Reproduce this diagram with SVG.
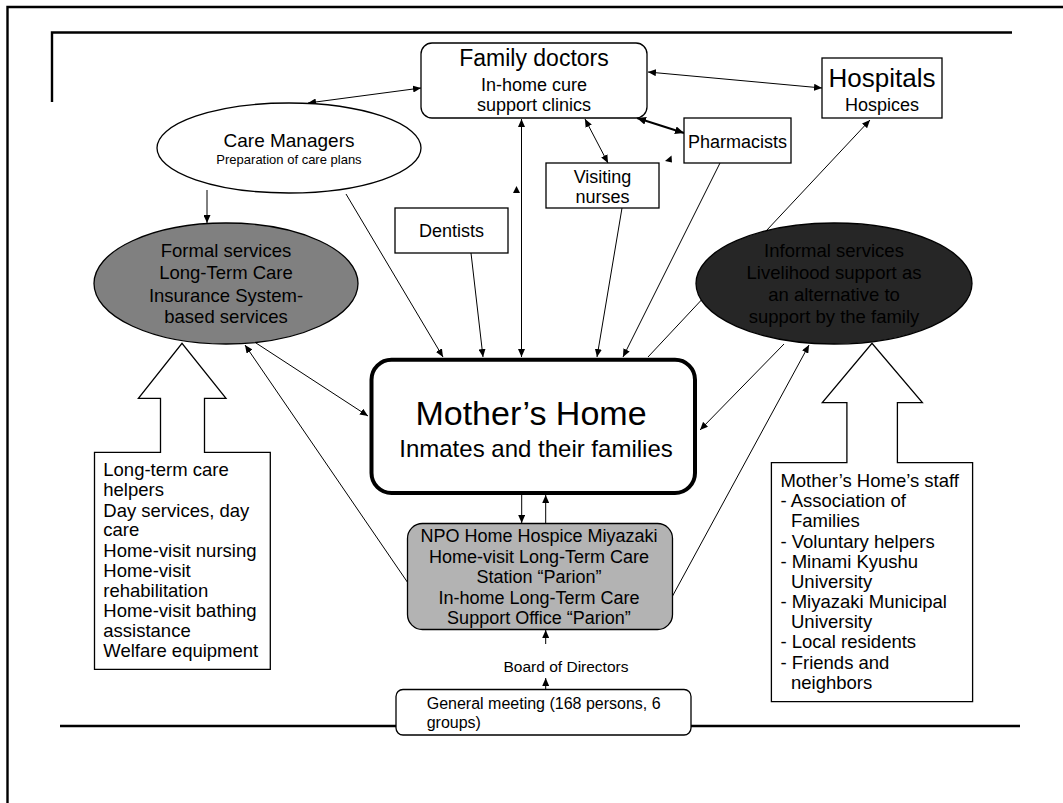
<svg xmlns="http://www.w3.org/2000/svg" width="1063" height="803" viewBox="0 0 1063 803">
  <style>
    text { font-family: "Liberation Sans", Arial, sans-serif; fill: #000; }
    .box { fill: #fff; stroke: #000; stroke-width: 1.3; }
    .frame { fill: none; stroke: #000; stroke-width: 2.4; }
    .conn { fill: none; stroke: #000; stroke-width: 1; }
    .mid { text-anchor: middle; }
    .s18 { font-size: 18px; }
    .s185 { font-size: 18.5px; }
  </style>
  <defs>
    <marker id="ah" markerUnits="userSpaceOnUse" markerWidth="8" markerHeight="7" refX="8" refY="3.5" orient="auto-start-reverse">
      <path d="M0,0 L8,3.5 L0,7 Z" fill="#000"/>
    </marker>
    <marker id="ahb" markerUnits="userSpaceOnUse" markerWidth="9" markerHeight="8" refX="9" refY="4" orient="auto-start-reverse">
      <path d="M0,0 L9,4 L0,8 Z" fill="#000"/>
    </marker>
  </defs>

  <rect width="1063" height="803" fill="#fff"/>

  <!-- page frame lines -->
  <g id="frame">
    <path class="frame" d="M7.5,803 L7.5,7 L1063,7"/>
    <path class="frame" d="M52,102 L52,32.5 L1012,32.5"/>
    <path class="frame" d="M60,726 L1020,726"/>
  </g>

  <!-- connectors -->
  <g id="connectors" class="conn">
    <path d="M308,103 L421,88" marker-start="url(#ah)" marker-end="url(#ah)"/>
    <path d="M648,72 L822,88" marker-start="url(#ah)" marker-end="url(#ah)"/>
    <path d="M637,118 L684,133" stroke-width="2" marker-start="url(#ahb)" marker-end="url(#ahb)"/>
    <path d="M585,119 L608,163" marker-start="url(#ah)" marker-end="url(#ah)"/>
    <path d="M521.5,119 L521.5,357" marker-start="url(#ah)" marker-end="url(#ah)"/>
    <path d="M207,190 L207,223" marker-end="url(#ah)"/>
    <path d="M346,194 L443,357" marker-end="url(#ah)"/>
    <path d="M471,253 L483,357" marker-end="url(#ah)"/>
    <path d="M622,208 L597,357" marker-end="url(#ah)"/>
    <path d="M720,163 L623,357" marker-end="url(#ah)"/>
    <path d="M648,357 L870,120" marker-end="url(#ah)"/>
    <path d="M784,344 L700,430" marker-end="url(#ah)"/>
    <path d="M672,597 L809,345" marker-end="url(#ah)"/>
    <path d="M256,343 L368,416" marker-end="url(#ah)"/>
    <path d="M408,583 L245,345" marker-end="url(#ah)"/>
    <path d="M521.7,495 L521.7,523" marker-end="url(#ah)"/>
    <path d="M545.7,523 L545.7,495" marker-end="url(#ah)"/>
    <path d="M545.7,644 L545.7,630" marker-end="url(#ah)"/>
    <path d="M545.7,689 L545.7,678" marker-end="url(#ah)"/>
    <!-- loose arrowheads -->
    <polygon points="516.5,186 513,193 520,193" fill="#000" stroke="none"/>
    <polygon points="671.5,155.5 665,161 672,162.5" fill="#000" stroke="none"/>
  </g>

  <g id="family-doctors">
    <rect class="box" x="421" y="43" width="226" height="75" rx="11"/>
    <text class="mid" x="534" y="66" font-size="23">Family doctors</text>
    <text class="mid s18" x="534" y="91">In-home cure</text>
    <text class="mid s18" x="534" y="111">support clinics</text>
  </g>

  <g id="hospitals">
    <rect class="box" x="822" y="58" width="120" height="60"/>
    <text class="mid" x="882" y="87" font-size="26">Hospitals</text>
    <text class="mid s18" x="882" y="111">Hospices</text>
  </g>

  <g id="pharmacists">
    <rect class="box" x="684" y="118" width="107" height="45"/>
    <text class="mid s18" x="737.5" y="147.5">Pharmacists</text>
  </g>

  <g id="visiting-nurses">
    <rect class="box" x="546" y="163" width="113" height="45"/>
    <text class="mid s18" x="602.5" y="182.5">Visiting</text>
    <text class="mid s18" x="602.5" y="203">nurses</text>
  </g>

  <g id="dentists">
    <rect class="box" x="395" y="208" width="113" height="45"/>
    <text class="mid s18" x="451.5" y="237">Dentists</text>
  </g>

  <g id="care-managers">
    <ellipse class="box" cx="289" cy="148" rx="132" ry="45"/>
    <text class="mid" x="289" y="146.5" font-size="19">Care Managers</text>
    <text class="mid" x="289" y="163.5" font-size="13">Preparation of care plans</text>
  </g>

  <g id="formal-services">
    <ellipse cx="226" cy="283.5" rx="132" ry="60.5" fill="#808080" stroke="#000" stroke-width="1.3"/>
    <text class="mid s185" x="226" y="256.7" fill="#111">Formal services</text>
    <text class="mid s185" x="226" y="279.3">Long-Term Care</text>
    <text class="mid s185" x="226" y="301.7">Insurance System-</text>
    <text class="mid s185" x="226" y="323.3">based services</text>
  </g>

  <g id="informal-services">
    <ellipse cx="834" cy="283.5" rx="138" ry="60.5" fill="#262626" stroke="#000" stroke-width="1.3"/>
    <text class="mid s185" x="834" y="256.7">Informal services</text>
    <text class="mid s185" x="834" y="279.3">Livelihood support as</text>
    <text class="mid s185" x="834" y="301">an alternative to</text>
    <text class="mid s185" x="834" y="323.3">support by the family</text>
  </g>

  <g id="mothers-home">
    <rect x="371.5" y="359.7" width="323.5" height="133.3" rx="20" fill="#fff" stroke="#000" stroke-width="4"/>
    <text class="mid" x="531" y="424.5" font-size="34">Mother’s Home</text>
    <text class="mid" x="536" y="456.5" font-size="24">Inmates and their families</text>
  </g>

  <g id="npo-office">
    <rect x="407.5" y="523.5" width="265" height="106" rx="15" fill="#b3b3b3" stroke="#000" stroke-width="1.3"/>
    <text class="mid s18" x="539" y="541.7">NPO Home Hospice Miyazaki</text>
    <text class="mid s18" x="539" y="563">Home-visit Long-Term Care</text>
    <text class="mid s18" x="539" y="583.3">Station “Parion”</text>
    <text class="mid s18" x="539" y="604">In-home Long-Term Care</text>
    <text class="mid s18" x="539" y="624">Support Office “Parion”</text>
  </g>

  <g id="board">
    <text class="mid" x="566" y="671.7" font-size="15.5">Board of Directors</text>
  </g>

  <g id="general-meeting">
    <rect class="box" x="396" y="689.5" width="295" height="45.5" rx="7"/>
    <text x="426.7" y="709.3" font-size="16">General meeting (168 persons, 6</text>
    <text x="426.7" y="728.3" font-size="16">groups)</text>
  </g>

  <g id="formal-providers">
    <path class="box" d="M94.5,452.3 L160.5,452.3 L160.5,398.3 L138.4,398.3 L182,343.3 L226,398.3 L204.5,398.3 L204.5,452.3 L270.3,452.3 L270.3,669.3 L94.5,669.3 Z"/>
    <g class="s185">
      <text x="103.3" y="476">Long-term care</text>
      <text x="103.3" y="495.8">helpers</text>
      <text x="103.3" y="516.7">Day services, day</text>
      <text x="103.3" y="536.3">care</text>
      <text x="103.3" y="556.7">Home-visit nursing</text>
      <text x="103.3" y="576.7">Home-visit</text>
      <text x="103.3" y="596.7">rehabilitation</text>
      <text x="103.3" y="617.3">Home-visit bathing</text>
      <text x="103.3" y="637.3">assistance</text>
      <text x="103.3" y="657.3">Welfare equipment</text>
    </g>
  </g>

  <g id="informal-providers">
    <path class="box" d="M771.4,462.7 L846.9,462.7 L846.9,402.7 L822.3,402.7 L872,343.3 L922.4,402.7 L897.4,402.7 L897.4,462.7 L972.6,462.7 L972.6,701.7 L771.4,701.7 Z"/>
    <g class="s185">
      <text x="780.4" y="487.3">Mother’s Home’s staff</text>
      <text x="780.4" y="507.3">- Association of</text>
      <text x="791" y="527.3">Families</text>
      <text x="780.4" y="548.3">- Voluntary helpers</text>
      <text x="780.4" y="568.3">- Minami Kyushu</text>
      <text x="791" y="588.3">University</text>
      <text x="780.4" y="608.3">- Miyazaki Municipal</text>
      <text x="791" y="628.3">University</text>
      <text x="780.4" y="648.3">- Local residents</text>
      <text x="780.4" y="669.3">- Friends and</text>
      <text x="791" y="689.3">neighbors</text>
    </g>
  </g>
</svg>
